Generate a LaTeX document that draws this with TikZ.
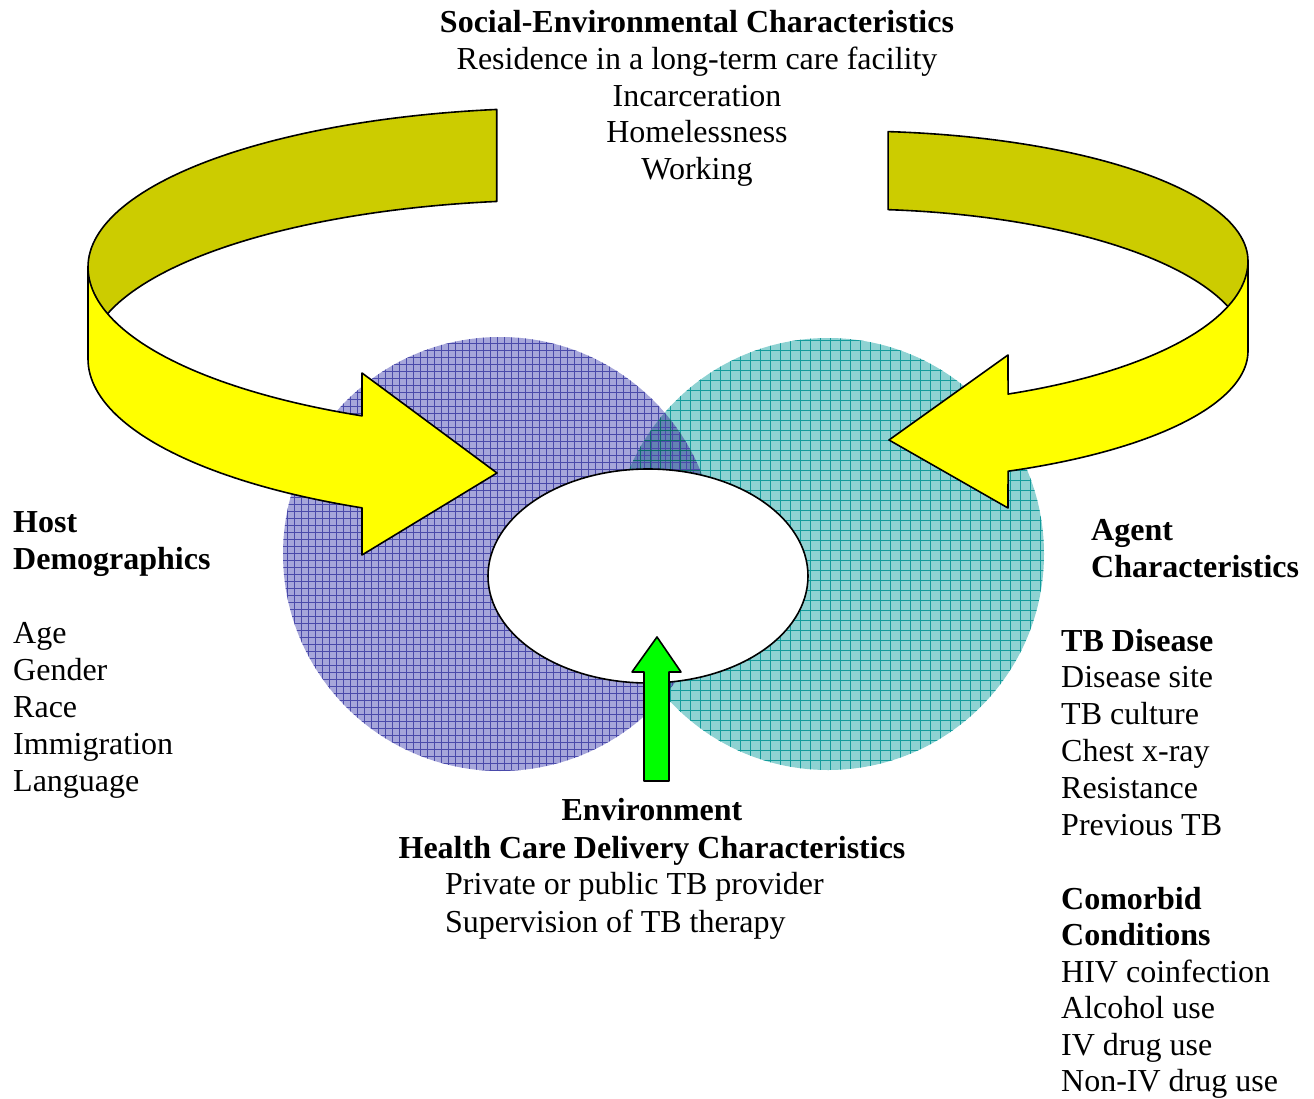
\documentclass[tikz,border=0pt]{standalone}
\usepackage{fontspec}
\usetikzlibrary{shapes.geometric}
\setmainfont{Liberation Serif}
\definecolor{bandback}{HTML}{CCCC00}
\definecolor{bandfront}{HTML}{FFFF00}
\definecolor{hostfill}{HTML}{A6A6DA}
\definecolor{hostgrid}{HTML}{4A4AAA}
\definecolor{agentfill}{HTML}{8ED2D2}
\definecolor{agentgrid}{HTML}{139B9B}
\definecolor{bothfill}{HTML}{6482B4}
\definecolor{envarrow}{HTML}{00FF00}
\tikzset{
  txt/.style={font=\fontsize{32}{37}\selectfont, inner sep=0pt, anchor=base west},
  txtc/.style={txt, anchor=base},
  hd/.style={font=\fontsize{32}{37}\selectfont\bfseries},
  outline/.style={draw=black, line width=1.6pt, line join=round},
}
\begin{document}
\begin{tikzpicture}[x=1pt, y=-1pt]
\useasboundingbox (0,0) rectangle (1314,1099);

% host circle
\begin{scope}
  \clip (500,554) circle[radius=217];
  \fill[hostfill] (280,334) rectangle (720,774);
  \draw[hostgrid, line width=0.6pt] (280,334) grid[step=7pt] (720,774);
\end{scope}
% agent circle
\begin{scope}
  \clip (828,554) circle[radius=216];
  \fill[agentfill] (610,334) rectangle (1046,774);
  \draw[agentgrid, line width=0.9pt] (610,334) grid[step=10pt] (1046,774);
\end{scope}
% overlap of the two circles
\begin{scope}
  \clip (500,554) circle[radius=217];
  \clip (828,554) circle[radius=216];
  \fill[bothfill] (600,334) rectangle (720,774);
  \draw[hostgrid, line width=0.6pt] (280,334) grid[step=7pt] (720,774);
  \draw[agentgrid!70!black, line width=0.9pt] (610,334) grid[step=10pt] (1046,774);
\end{scope}

% left ribbon arrow: back (inner) face, then front face with head
\filldraw[outline, fill=bandback]
  plot[domain=82.3:0, samples=60, variable=\t] ({560-472*cos(\t)},{267-159*sin(\t)})
  -- plot[domain=0:82.3, samples=60, variable=\t] ({560-472*cos(\t)},{359-159*sin(\t)})
  -- cycle;
\filldraw[outline, fill=bandfront]
  (88,267)
  -- plot[domain=0:65.2, samples=50, variable=\t] ({560-472*cos(\t)},{267+164*sin(\t)})
  -- (362,373) -- (497,473) -- (362,555)
  -- plot[domain=65.2:0, samples=50, variable=\t] ({560-472*cos(\t)},{359+164*sin(\t)})
  -- cycle;

% right ribbon arrow
\filldraw[outline, fill=bandback]
  plot[domain=84.5:0, samples=60, variable=\t] ({850+398*cos(\t)},{261-130*sin(\t)})
  -- plot[domain=0:84.5, samples=60, variable=\t] ({850+398*cos(\t)},{351-142*sin(\t)})
  -- cycle;
\filldraw[outline, fill=bandfront]
  (1248,261)
  -- plot[domain=0:66.6, samples=50, variable=\t] ({850+398*cos(\t)},{261+145*sin(\t)})
  -- (1008,355) -- (889,440) -- (1008,508)
  -- plot[domain=66.6:0, samples=50, variable=\t] ({850+398*cos(\t)},{351+131*sin(\t)})
  -- cycle;

% central interaction ellipse
\node[outline, fill=white, ellipse, minimum width=320pt, minimum height=214pt, inner sep=0pt] (core) at (648,576) {};

% environment arrow
\filldraw[outline, fill=envarrow]
  (644,781) -- (644,672) -- (632,672) -- (657,637) -- (681,672) -- (669,672) -- (669,781) -- cycle;

% social-environmental block
\node[txtc, hd] (soc) at (697,32.5) {Social-Environmental Characteristics};
\foreach \s [count=\i] in {Residence in a long-term care facility, Incarceration, Homelessness, Working}
  \node[txtc] (soc\i) at (697,{32.5+36.8*\i}) {\s};

% host block
\node[txt, hd] (host) at (13,532) {Host};
\node[txt, hd] (demo) at (13,569) {Demographics};
\foreach \s [count=\i] in {Age, Gender, Race, Immigration, Language}
  \node[txt] (host\i) at (13,{643+37*(\i-1)}) {\s};

% agent block
\node[txt, hd] (agent) at (1091,540) {Agent};
\node[txt, hd] (agentc) at (1091,577) {Characteristics};
\node[txt, hd] (tbd) at (1061,651) {TB Disease};
\foreach \s [count=\i] in {Disease site, TB culture, Chest x-ray, Resistance, Previous TB}
  \node[txt] (tbd\i) at (1061,{651+36.9*\i}) {\s};
\node[txt, hd] (como) at (1061,909) {Comorbid};
\node[txt, hd] (cond) at (1061,945.5) {Conditions};
\foreach \s [count=\i] in {HIV coinfection, Alcohol use, IV drug use, Non-IV drug use}
  \node[txt] (cond\i) at (1061,{945.5+36.6*\i}) {\s};

% environment block
\node[txtc, hd] (env) at (652,820) {Environment};
\node[txtc, hd] (hcd) at (652,858) {Health Care Delivery Characteristics};
\node[txt] (hcd1) at (445,894) {Private or public TB provider};
\node[txt] (hcd2) at (445,932) {Supervision of TB therapy};
\end{tikzpicture}
\end{document}
